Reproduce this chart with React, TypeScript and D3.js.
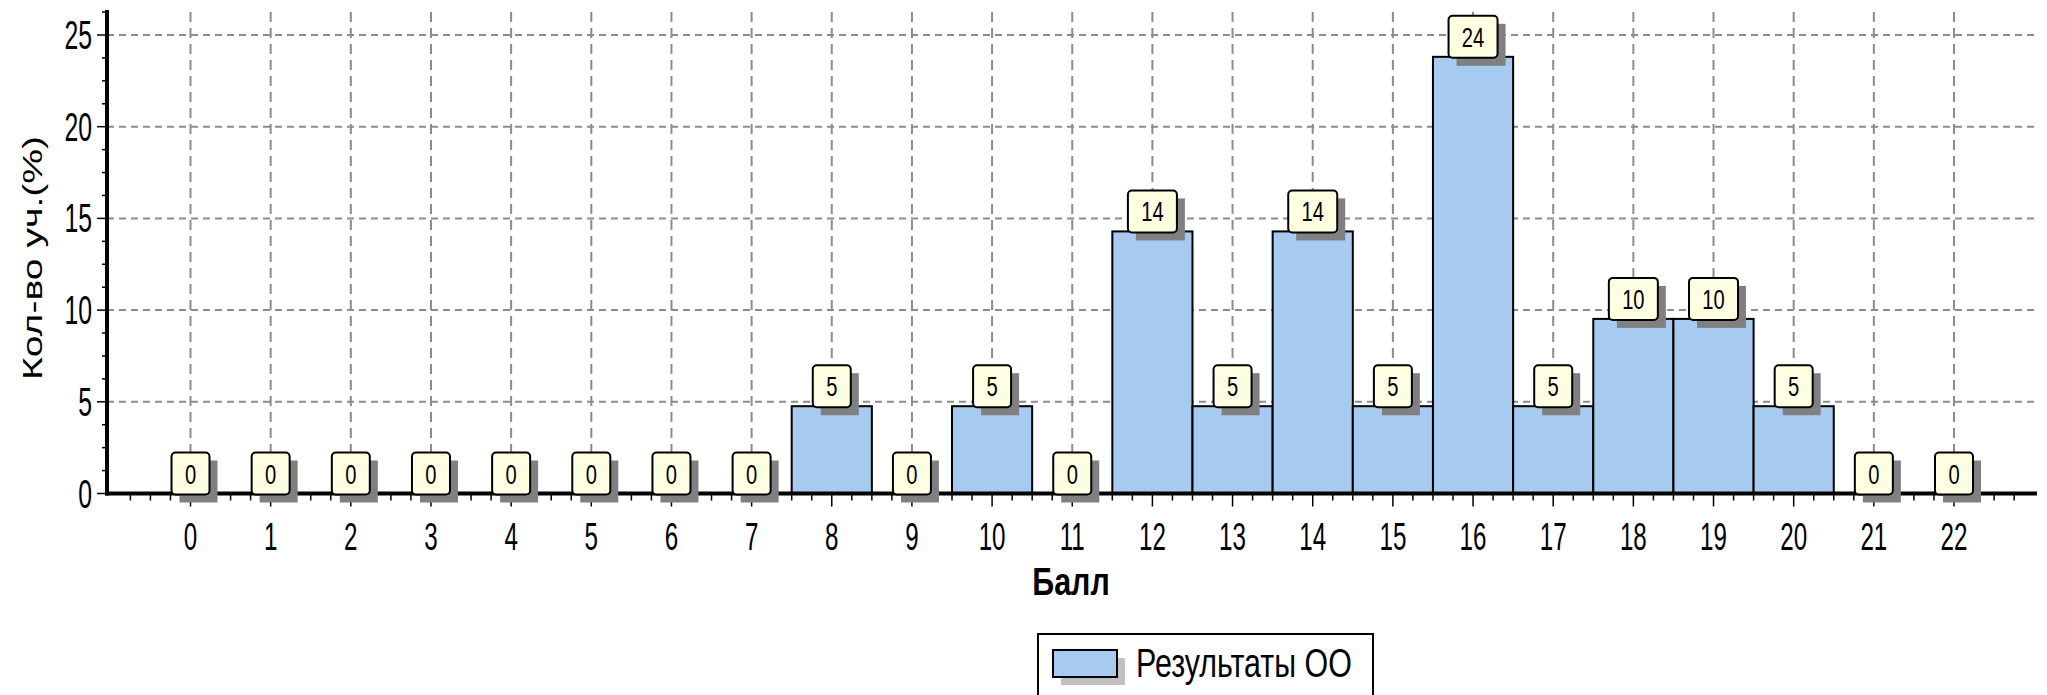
import React from "react";
import * as d3 from "d3";

const categories: number[] = [0, 1, 2, 3, 4, 5, 6, 7, 8, 9, 10, 11, 12, 13, 14, 15, 16, 17, 18, 19, 20, 21, 22];
const values: number[] = [0, 0, 0, 0, 0, 0, 0, 0, 4.76, 0, 4.76, 0, 14.29, 4.76, 14.29, 4.76, 23.81, 4.76, 9.52, 9.52, 4.76, 0, 0];
const labels: string[] = ["0", "0", "0", "0", "0", "0", "0", "0", "5", "0", "5", "0", "14", "5", "14", "5", "24", "5", "10", "10", "5", "0", "0"];
const yTicks: number[] = [0, 5, 10, 15, 20, 25];
const yTitle = "Кол-во уч.(%)";
const xTitle = "Балл";
const seriesName = "Результаты ОО";

const W = 2047;
const H = 695;
const AXIS_LEFT = 107;
const AXIS_RIGHT = 2037;
const AXIS_TOP = 10;
const FONT = "'Liberation Sans', Arial, sans-serif";

function SText(props: {
  x: number; y: number; sx: number; size: number; anchor?: string; weight?: string; rotate?: number; children: React.ReactNode;
}) {
  const { x, y, sx, size, anchor = "middle", weight = "normal", rotate = 0, children } = props;
  return (
    <text
      transform={`translate(${x},${y}) rotate(${rotate}) scale(${sx},1)`}
      textAnchor={anchor}
      fontFamily={FONT}
      fontSize={size}
      fontWeight={weight}
      fill="#000"
    >
      {children}
    </text>
  );
}

export default function App() {
  const x = d3.scaleLinear().domain([0, 22]).range([190.5, 1954]);
  const y = d3.scaleLinear().domain([0, 25]).range([493.5, 35]);
  const step = x(1) - x(0);
  const y0 = y(0);

  const xMinor = d3.range(-0.75, 22.76, 0.25).filter((v) => Math.abs(v - Math.round(v)) > 0.01 && x(v) > AXIS_LEFT + 4 && x(v) < 2020);
  const yMinor = d3.range(0, 26.3, 1.25).filter((v) => Math.abs(v / 5 - Math.round(v / 5)) > 0.01);

  return (
    <svg width={W} height={H} style={{ position: "absolute", left: 0, top: 0, background: "#fff" }}>
      <rect x={0} y={0} width={W} height={H} fill="#fff" />
      {/* vertical grid */}
      {categories.map((c) => (
        <line key={"vg" + c} x1={x(c)} x2={x(c)} y1={12} y2={y0} stroke="#8c8c8c" strokeWidth={2} strokeDasharray="10 6" />
      ))}
      {/* horizontal grid */}
      {yTicks.filter((t) => t > 0).map((t) => (
        <line key={"hg" + t} x1={AXIS_LEFT} x2={AXIS_RIGHT} y1={y(t)} y2={y(t)} stroke="#8c8c8c" strokeWidth={2} strokeDasharray="7 5" />
      ))}
      {/* bars */}
      {categories.map((c, i) =>
        values[i] > 0 ? (
          <rect
            key={"b" + c}
            x={x(c) - step / 2}
            y={y(values[i])}
            width={step}
            height={y0 - y(values[i])}
            fill="#a6caf0"
            stroke="#000"
            strokeWidth={2}
          />
        ) : null
      )}
      {/* axes */}
      <line x1={AXIS_LEFT} x2={AXIS_LEFT} y1={AXIS_TOP} y2={y0 + 2} stroke="#000" strokeWidth={4} />
      <line x1={AXIS_LEFT - 2} x2={AXIS_RIGHT} y1={y0} y2={y0} stroke="#000" strokeWidth={4} />
      {/* y ticks */}
      {yTicks.map((t) => (
        <g key={"yt" + t}>
          <line x1={AXIS_LEFT - 10} x2={AXIS_LEFT} y1={y(t)} y2={y(t)} stroke="#000" strokeWidth={1.5} />
          <SText x={92} y={y(t) + 14} sx={0.62} size={40} anchor="end">{t}</SText>
        </g>
      ))}
      {yMinor.map((t) => (
        <line key={"ym" + t} x1={AXIS_LEFT - 5} x2={AXIS_LEFT} y1={y(t)} y2={y(t)} stroke="#000" strokeWidth={1.5} />
      ))}
      {/* x ticks */}
      {categories.map((c) => (
        <g key={"xt" + c}>
          <line x1={x(c)} x2={x(c)} y1={y0} y2={y0 + 13} stroke="#000" strokeWidth={1.5} />
          <SText x={x(c)} y={550} sx={0.62} size={39}>{c}</SText>
        </g>
      ))}
      {xMinor.map((v, i) => (
        <line key={"xm" + i} x1={x(v)} x2={x(v)} y1={y0} y2={y0 + 7} stroke="#000" strokeWidth={1.5} />
      ))}
      {/* value labels */}
      {categories.map((c, i) => {
        const w = labels[i].length > 1 ? 49 : 38;
        const h = 42;
        const bottom = y(values[i]) + 1;
        const top = bottom - h;
        return (
          <g key={"lb" + c}>
            <rect x={x(c) - w / 2 + 8} y={top + 8} width={w} height={h} fill="#808080" />
            <rect x={x(c) - w / 2} y={top} width={w} height={h} rx={4} ry={4} fill="#ffffe1" stroke="#000" strokeWidth={2} />
            <SText x={x(c)} y={top + h / 2 + 10} sx={0.72} size={28}>{labels[i]}</SText>
          </g>
        );
      })}
      {/* titles */}
      <SText x={1071} y={595} sx={0.8} size={38} weight="bold">{xTitle}</SText>
      <SText x={42} y={258} sx={1.45} size={27} rotate={-90}>{yTitle}</SText>
      {/* legend */}
      <rect x={1038} y={634} width={335} height={80} fill="#fff" stroke="#000" strokeWidth={2} />
      <rect x={1061} y={658} width={64} height={27} fill="#c0c0c0" />
      <rect x={1053} y={650} width={64} height={27} fill="#a6caf0" stroke="#000" strokeWidth={2} />
      <SText x={1136} y={677} sx={0.76} size={40} anchor="start">{seriesName}</SText>
    </svg>
  );
}
